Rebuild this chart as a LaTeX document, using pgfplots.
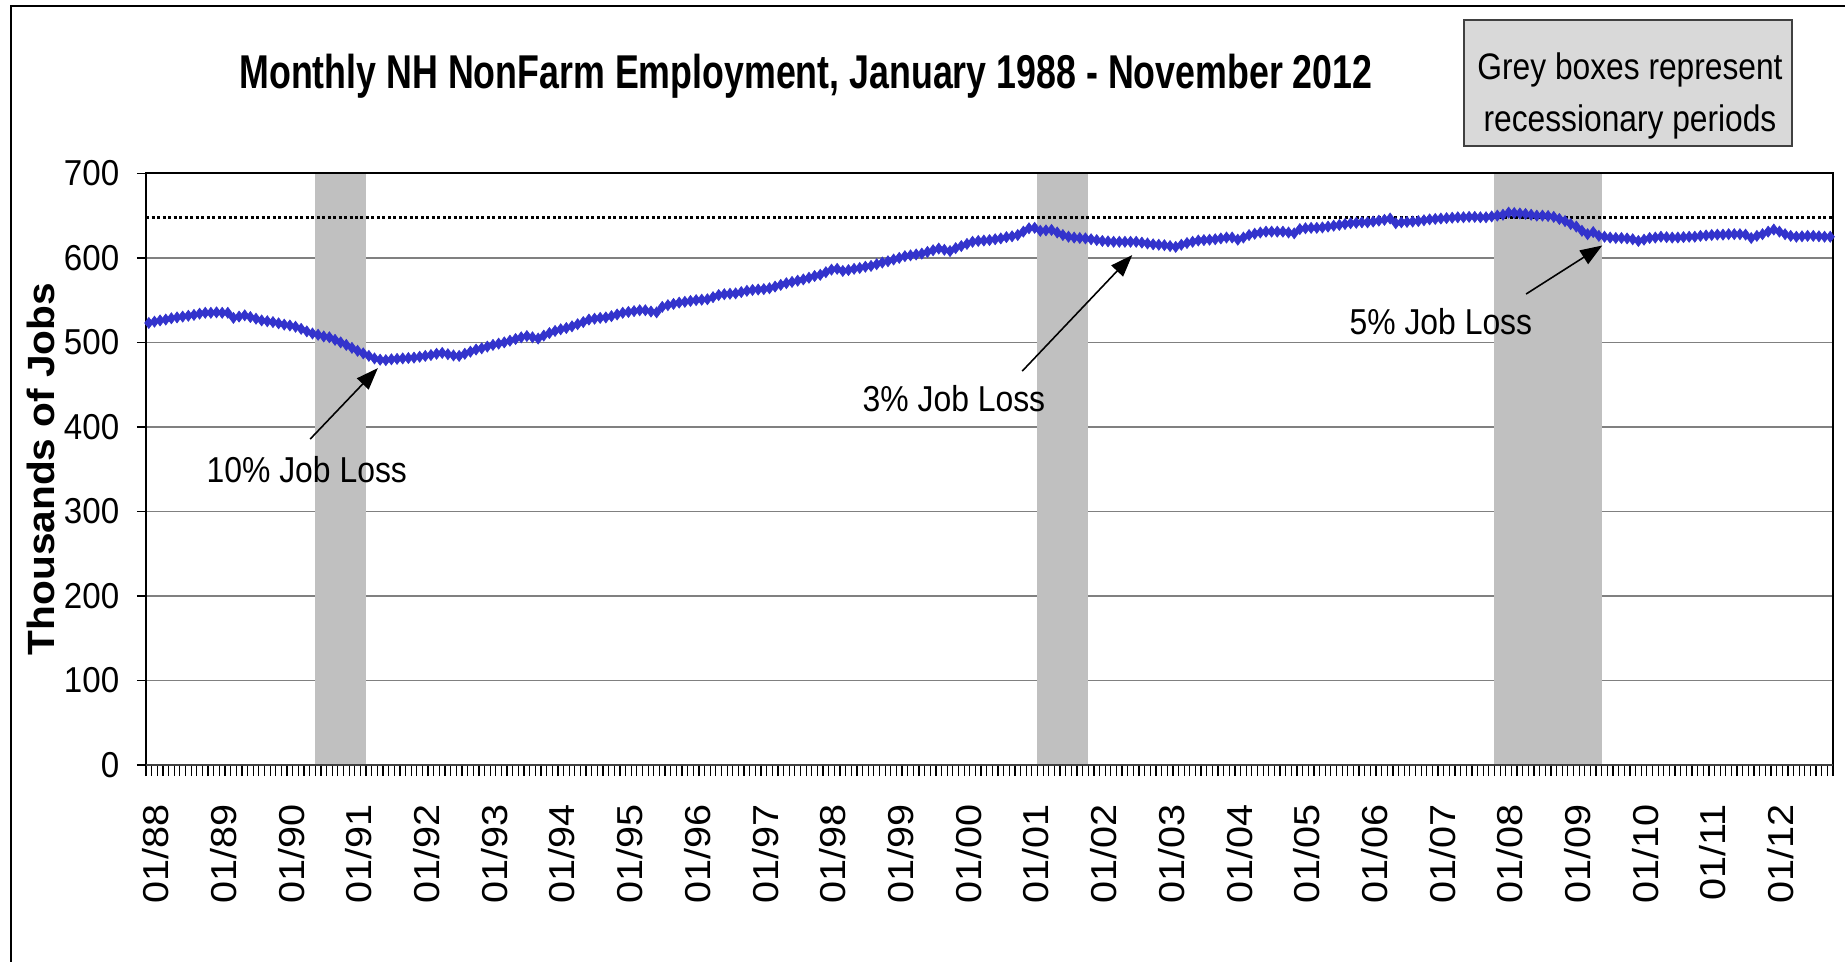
\documentclass[border=0pt]{standalone}
\usepackage{fontspec}
\setmainfont{Liberation Sans}
\usepackage{graphicx}
\usepackage{pgfplots}
\pgfplotsset{compat=1.18}
\usepackage{pgfplotstable}
\usetikzlibrary{arrows.meta}
\definecolor{lineblue}{RGB}{51,51,204}
\definecolor{recgray}{RGB}{192,192,192}
\definecolor{gridgray}{RGB}{128,128,128}
\definecolor{boxgray}{RGB}{217,217,217}
\definecolor{boxedge}{RGB}{64,64,64}
\newcommand\fs[1]{\fontsize{#1}{#1}\selectfont}
\newcommand\xl[1]{\scalebox{1.1}[1]{#1}}
\newcommand\ys[1]{\scalebox{0.92}[1]{#1}}

\pgfplotstableread[row sep=\\]{
y\\
523\\ 524.5\\ 526\\ 527\\ 528.5\\ 529.5\\ 530.5\\ 531.5\\ 532.5\\ 534\\ 535\\ 535\\
535.5\\ 535\\ 535\\ 529\\ 530.5\\ 532\\ 530\\ 528\\ 526\\ 525\\ 524\\ 522.5\\
521\\ 520\\ 518.5\\ 516\\ 513\\ 510.5\\ 509\\ 507\\ 506\\ 503\\ 500\\ 497\\
493.5\\ 490\\ 487\\ 484\\ 481\\ 479.5\\ 479\\ 480\\ 480.5\\ 481\\ 481.5\\ 482\\
483\\ 484\\ 485\\ 486.5\\ 487.5\\ 486\\ 484.5\\ 484\\ 486.5\\ 489\\ 491.5\\ 493\\
495\\ 497\\ 498.5\\ 500\\ 502\\ 504\\ 506\\ 507.5\\ 506\\ 504.5\\ 508\\ 511\\
513.5\\ 515.5\\ 517\\ 519\\ 521.5\\ 524\\ 527\\ 528\\ 529\\ 529.5\\ 531\\ 533\\
535\\ 536\\ 537\\ 538\\ 538\\ 536.5\\ 535.5\\ 542\\ 544\\ 545.5\\ 547\\ 548\\
549\\ 550\\ 550.5\\ 551\\ 553.5\\ 556\\ 557\\ 557.5\\ 558\\ 559.5\\ 561\\ 562\\
562.5\\ 563\\ 564\\ 566\\ 568\\ 570\\ 571.5\\ 573\\ 574.5\\ 576.5\\ 578.5\\ 580\\
583\\ 586\\ 587\\ 584.5\\ 585.5\\ 587\\ 588\\ 589.5\\ 590.5\\ 592.5\\ 594.5\\ 596\\
598\\ 600\\ 602\\ 603\\ 604\\ 605\\ 607\\ 609\\ 611\\ 609.5\\ 608\\ 611.5\\
614\\ 616.5\\ 619\\ 620\\ 620.5\\ 621\\ 622\\ 623\\ 624.5\\ 625.5\\ 627\\ 631\\
635\\ 635.5\\ 632\\ 632.5\\ 633\\ 630\\ 627\\ 625\\ 624\\ 623.5\\ 623\\ 622\\
621\\ 620\\ 619.5\\ 619\\ 619\\ 619\\ 619\\ 619\\ 618\\ 617\\ 616\\ 615.5\\
615\\ 614\\ 613\\ 615.5\\ 617.5\\ 619\\ 620.5\\ 621\\ 621.5\\ 622\\ 623\\ 624\\
624\\ 621.5\\ 624\\ 627\\ 628.5\\ 630\\ 631\\ 631\\ 631\\ 631\\ 630\\ 629\\
634\\ 635\\ 635.5\\ 635.5\\ 636\\ 637\\ 638\\ 639\\ 640\\ 641\\ 641.5\\ 642\\
642\\ 643\\ 644\\ 645\\ 646.5\\ 641\\ 642\\ 642.5\\ 643\\ 643.5\\ 644.5\\ 645.5\\
646\\ 646.5\\ 647\\ 647.5\\ 648\\ 648\\ 648.5\\ 648.5\\ 648\\ 648\\ 649\\ 650\\
651\\ 653.5\\ 653\\ 652.5\\ 652\\ 651\\ 650\\ 650\\ 649.5\\ 648.5\\ 646\\ 643.5\\
640\\ 637\\ 632\\ 628\\ 630.5\\ 626\\ 625\\ 624\\ 623.5\\ 623.5\\ 623\\ 622\\
620\\ 621.5\\ 623.5\\ 624\\ 625\\ 624.5\\ 624\\ 624\\ 624.5\\ 625\\ 625\\ 626\\
626.5\\ 627\\ 627.5\\ 627.5\\ 628\\ 628\\ 628\\ 627.5\\ 623.5\\ 626\\ 628\\ 631\\
633.5\\ 631\\ 628\\ 626\\ 625\\ 625.5\\ 626\\ 626\\ 625.5\\ 625\\ 625\\
}\empdata

\begin{document}
\begin{tikzpicture}[x=1cm,y=1cm]
\useasboundingbox (0,0) rectangle (18.45,-9.62);
\draw[black, line width=0.5pt] (0.11,-9.7) -- (0.11,-0.06) -- (18.5,-0.06);
\node[anchor=base] at (8.06,-0.885) {\fs{13.5}\bfseries\scalebox{0.754}[1]{Monthly NH NonFarm Employment, January 1988 - November 2012}};
\draw[fill=boxgray, draw=boxedge, line width=0.45pt] (14.64,-0.20) rectangle (17.92,-1.46);
\node[anchor=base] at (16.3,-0.80) {\fs{10.5}\scalebox{0.86}[1]{Grey boxes represent}};
\node[anchor=base] at (16.3,-1.32) {\fs{10.5}\scalebox{0.86}[1]{recessionary periods}};
\node[rotate=90] at (0.41,-4.69) {\fs{10.8}\bfseries\scalebox{1.07}[1]{Thousands of Jobs}};
\begin{axis}[at={(1.46cm,-7.65cm)}, anchor=south west, scale only axis,
  width=16.87cm, height=5.917cm,
  xmin=-0.5, xmax=298.5, ymin=0, ymax=700,
  clip=false,
  axis line style={draw=none},
  ymajorgrids, grid style={gridgray, line width=0.45pt},
  tick align=outside, tick pos=left,
  major tick length=0.09cm, minor tick length=0.11cm,
  ytick={0,100,...,700},
  yticklabels={\ys{0},\ys{100},\ys{200},\ys{300},\ys{400},\ys{500},\ys{600},\ys{700}},
  xtick={0,12,...,288},
  xticklabels={\xl{01/88},\xl{01/89},\xl{01/90},\xl{01/91},\xl{01/92},\xl{01/93},\xl{01/94},\xl{01/95},\xl{01/96},\xl{01/97},\xl{01/98},\xl{01/99},\xl{01/00},\xl{01/01},\xl{01/02},\xl{01/03},\xl{01/04},\xl{01/05},\xl{01/06},\xl{01/07},\xl{01/08},\xl{01/09},\xl{01/10},\xl{01/11},\xl{01/12}},
  every major x tick/.append style={draw=none},
  minor xtick={-0.5,0.5,...,298.5},
  every minor x tick/.append style={black, line width=0.35pt},
  every major y tick/.append style={black, line width=0.4pt},
  yticklabel style={font=\fs{10.25}, inner sep=0pt, anchor=east, xshift=-0.17cm},
  xticklabel style={font=\fs{10.25}, inner sep=0pt, xshift=0.07cm, yshift=-0.30cm, rotate=90, anchor=east},
]
\addplot[fill=recgray, draw=none] coordinates {(29.5,700) (38.5,700)} \closedcycle;
\addplot[fill=recgray, draw=none] coordinates {(157.5,700) (166.5,700)} \closedcycle;
\addplot[fill=recgray, draw=none] coordinates {(238.5,700) (257.5,700)} \closedcycle;
\addplot[color=lineblue, line width=1.1pt, mark=diamond*, mark size=0.55mm, mark options={solid, fill=lineblue, draw=lineblue, line width=0.2pt}] table[x expr=\coordindex, y=y] {\empdata};
\addplot[black, line width=0.32mm, dash pattern=on 0.3mm off 0.25mm] coordinates {(-0.5,648) (298.5,648)};
\draw[black, line width=0.5pt] (axis cs:-0.5,0) -- (axis cs:-0.5,700) -- (axis cs:298.5,700) -- (axis cs:298.5,0);
\draw[black!75, line width=0.8pt] (axis cs:-0.5,0) -- (axis cs:298.5,0);
\draw[-{Triangle[length=2.2mm,width=1.6mm]}, line width=0.45pt] (axis cs:28.6,385.6) -- (axis cs:40.6,469.6);
\draw[-{Triangle[length=2.2mm,width=1.6mm]}, line width=0.45pt] (axis cs:154.8,466) -- (axis cs:174.3,603.3);
\draw[-{Triangle[length=2.2mm,width=1.6mm]}, line width=0.45pt] (axis cs:244.1,557.2) -- (axis cs:257.6,614.6);
\node at (axis cs:28,350) {\fs{10.25}\scalebox{0.885}[1]{10\% Job Loss}};
\node at (axis cs:142.7,434) {\fs{10.25}\scalebox{0.885}[1]{3\% Job Loss}};
\node at (axis cs:229,524) {\fs{10.25}\scalebox{0.885}[1]{5\% Job Loss}};
\end{axis}
\end{tikzpicture}
\end{document}
